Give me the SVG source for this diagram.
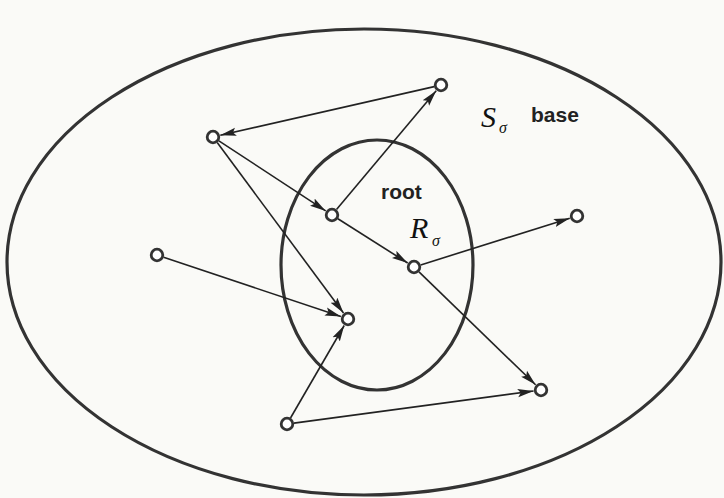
<svg xmlns="http://www.w3.org/2000/svg" width="724" height="498" viewBox="0 0 724 498">
<style>
.region{fill:none;stroke:#333;stroke-width:3.2}
.edge{stroke:#222;stroke-width:1.6;fill:none;marker-end:url(#ah)}
.node{fill:#fff;stroke:#333;stroke-width:2.8}
.math{font-family:"Liberation Serif",serif;font-style:italic;fill:#111}
.lbl{font-family:"Liberation Sans",Arial,sans-serif;font-weight:bold;fill:#222}
</style>
<defs>
<marker id="ah" markerUnits="userSpaceOnUse" markerWidth="16" markerHeight="10" viewBox="0 0 16 10" refX="16" refY="5" orient="auto">
<path d="M0,0.8 L16,5 L0,9.2 L3,5 Z" fill="#222"/>
</marker>
</defs>
<rect width="724" height="498" fill="#fafaf7"/>
<g id="base-region">
<ellipse class="region" cx="364" cy="262" rx="357" ry="233"/>
<text class="math" x="481" y="127" font-size="30">S</text>
<text class="math" x="499" y="133" font-size="16">σ</text>
<text class="lbl" x="531" y="122" font-size="21">base</text>
</g>
<g id="root-region">
<ellipse class="region" cx="377" cy="265" rx="96" ry="125"/>
<text class="lbl" x="381" y="199" font-size="21">root</text>
<text class="math" x="410" y="238" font-size="30">R</text>
<text class="math" x="432" y="246" font-size="16">σ</text>
</g>
<g id="connectors">
<line class="edge" x1="434.2" y1="86.6" x2="220.3" y2="135.3"/>
<line class="edge" x1="218.9" y1="140.8" x2="325.7" y2="210.9"/>
<line class="edge" x1="217.2" y1="142.6" x2="343.5" y2="313.0"/>
<line class="edge" x1="336.5" y1="209.6" x2="436.2" y2="90.8"/>
<line class="edge" x1="337.9" y1="218.8" x2="407.7" y2="263"/>
<line class="edge" x1="420.7" y1="264.9" x2="569.8" y2="218.2"/>
<line class="edge" x1="419" y1="271.9" x2="535.6" y2="384.8"/>
<line class="edge" x1="163.6" y1="257.2" x2="340.9" y2="316.6"/>
<line class="edge" x1="290.5" y1="418" x2="344.2" y2="325.5"/>
<line class="edge" x1="294" y1="423.1" x2="533.6" y2="391"/>
</g>
<g id="n-a"><circle class="node" cx="213" cy="137" r="5.8"/></g>
<g id="n-b"><circle class="node" cx="441" cy="85" r="5.8"/></g>
<g id="n-c"><circle class="node" cx="332" cy="215" r="5.8"/></g>
<g id="n-d"><circle class="node" cx="414" cy="267" r="5.8"/></g>
<g id="n-e"><circle class="node" cx="577" cy="216" r="5.8"/></g>
<g id="n-f"><circle class="node" cx="157" cy="255" r="5.8"/></g>
<g id="n-g"><circle class="node" cx="348" cy="319" r="5.8"/></g>
<g id="n-h"><circle class="node" cx="287" cy="424" r="5.8"/></g>
<g id="n-i"><circle class="node" cx="541" cy="390" r="5.8"/></g>
</svg>
